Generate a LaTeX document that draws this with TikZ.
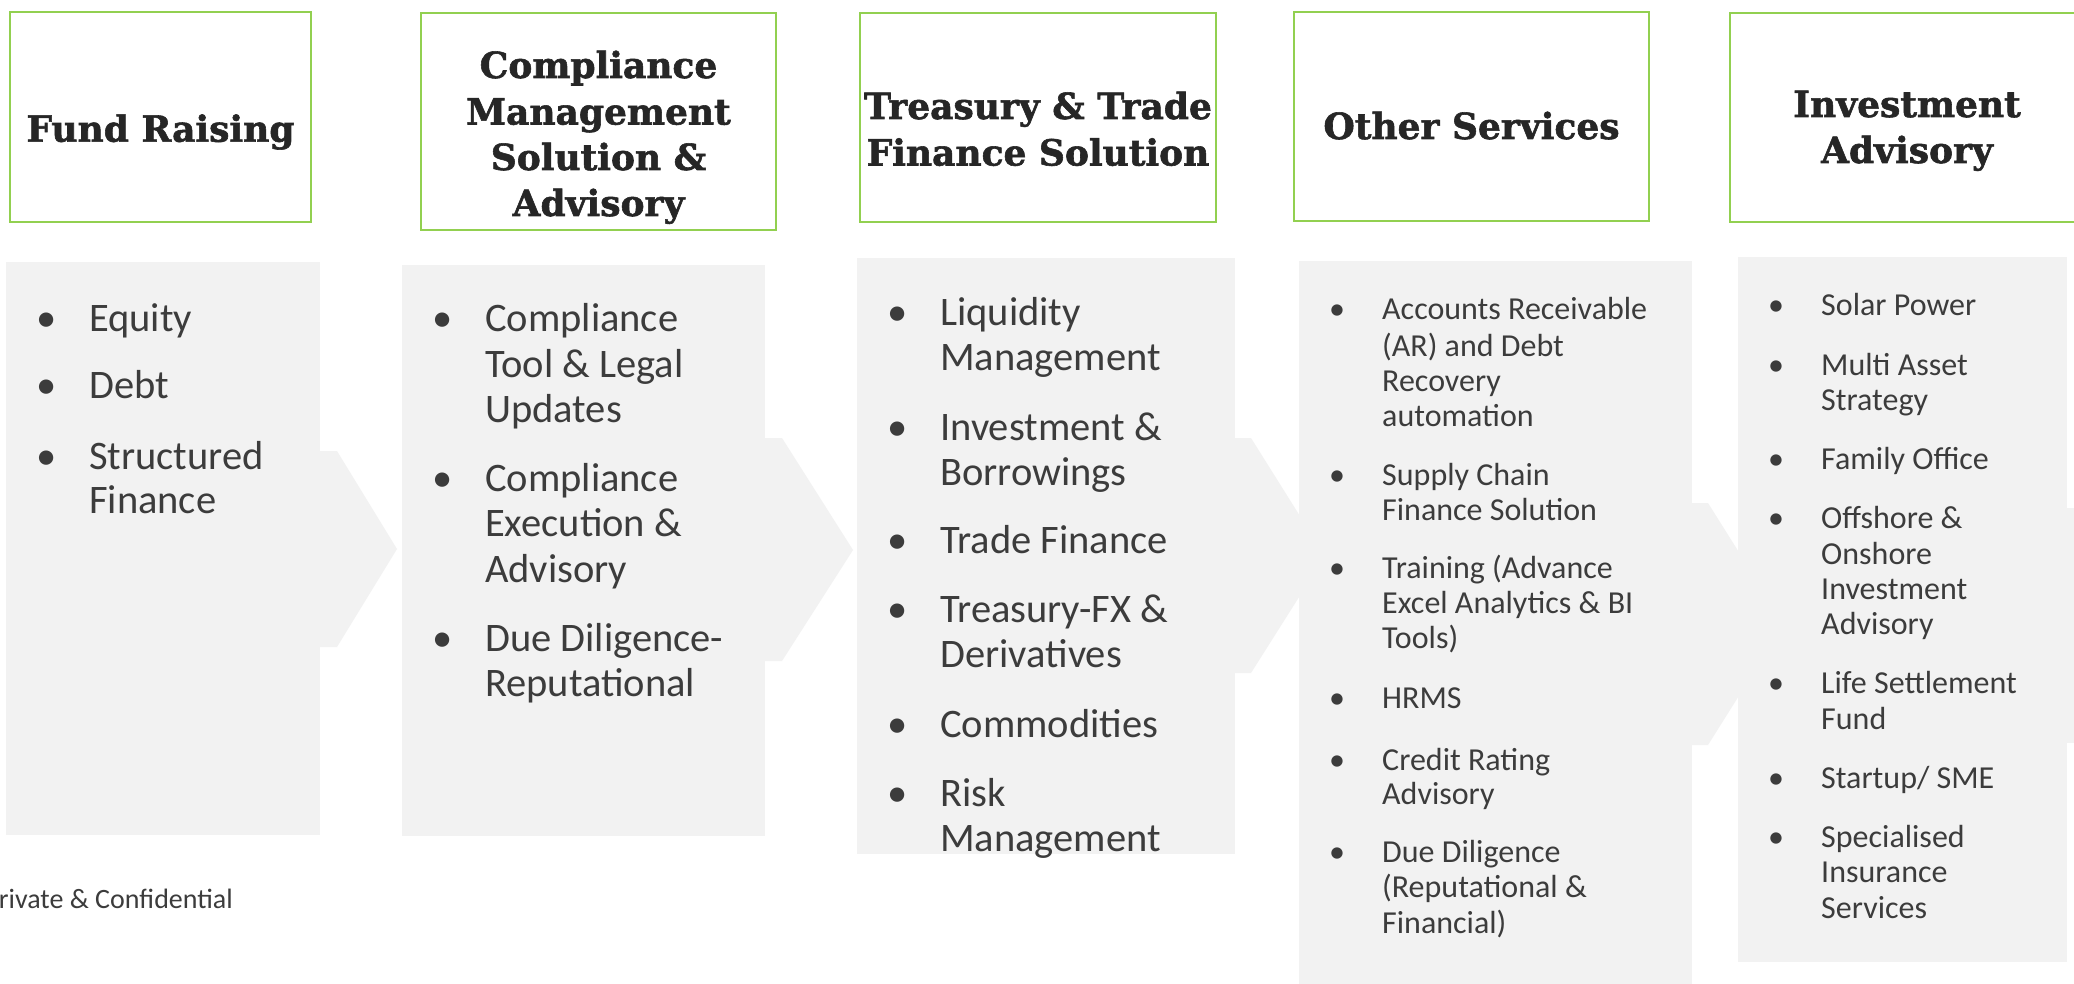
\documentclass[tikz,border=0pt]{standalone}
\usepackage{fontspec}
\setmainfont{Carlito}
\newfontfamily\ttlfont{DejaVu Serif}[BoldFeatures={FakeBold=1.6}]
\definecolor{panelgray}{HTML}{F2F2F2}
\definecolor{boxgreen}{HTML}{92D050}
\definecolor{bodytext}{HTML}{3C3C3C}
\definecolor{titletext}{HTML}{262626}
\newcommand\txtlines[4]{\foreach \yy/\tx [count=\i] in {#4} {\node[#3] (#1\i) at (#2,\yy) {\tx};}}
\newcommand\bulletlist[4]{\foreach \yy [count=\i] in {#4} {\node[#3] (#1\i) at (#2,\yy) {\textbullet};}}
\begin{document}
\begin{tikzpicture}[x=1pt,y=-1pt,
  titlebox/.style={draw=boxgreen, line width=2pt, fill=white},
  pan/.style={fill=panelgray, draw=none},
  ttl/.style={font=\ttlfont\bfseries\fontsize{36}{40}\selectfont, text=titletext, inner sep=0pt, anchor=base},
  bigt/.style={font=\fontsize{40.5}{45}\selectfont, text=bodytext, inner sep=0pt, anchor=base west},
  bigb/.style={font=\fontsize{40.5}{45}\selectfont, text=bodytext, inner sep=0pt, anchor=base},
  smlt/.style={font=\fontsize{32}{36}\selectfont, text=bodytext, inner sep=0pt, anchor=base west},
  smlb/.style={font=\fontsize{32}{36}\selectfont, text=bodytext, inner sep=0pt, anchor=base},
  foot/.style={font=\fontsize{28}{32}\selectfont, text=bodytext, inner sep=0pt, anchor=base east}]
\useasboundingbox (0,0) rectangle (2074,984);
\fill[white] (0,0) rectangle (2074,984);
% title boxes
\draw[titlebox] (10,12) rectangle (311,222);
\draw[titlebox] (421,13) rectangle (776,230);
\draw[titlebox] (860,13) rectangle (1216,222);
\draw[titlebox] (1294,12) rectangle (1649,221);
\draw[titlebox] (1730,13) rectangle (2090,222);
% panels with arrows
\path[pan] (6,262) rectangle (320,835);
\path[pan] (319,451) -- (337,451) -- (397,549) -- (337,647) -- (319,647) -- cycle;
\path[pan] (402,265) rectangle (765,836);
\path[pan] (764,438) -- (782,438) -- (853,550) -- (782,661) -- (764,661) -- cycle;
\path[pan] (857,258) rectangle (1235,854);
\path[pan] (1234,438) -- (1251,438) -- (1325,556) -- (1251,673) -- (1234,673) -- cycle;
\path[pan] (1299,261) rectangle (1692,990);
\path[pan] (1691,503) -- (1708,503) -- (1784,624) -- (1708,745) -- (1691,745) -- cycle;
\path[pan] (1738,257) rectangle (2067,962);
\path[pan] (2066,508) -- (2080,508) -- (2080,743) -- (2066,743) -- cycle;
% titles
\txtlines{ta}{160.5}{ttl}{141.7/{Fund Raising}}
\txtlines{tb}{598.5}{ttl}{78/{Compliance},124.5/{Management},170/{Solution \&},216/{Advisory}}
\txtlines{tc}{1038}{ttl}{119/{Treasury \& Trade},165.5/{Finance Solution}}
\txtlines{td}{1471.5}{ttl}{139/{Other Services}}
\txtlines{te}{1907}{ttl}{117/{Investment},163/{Advisory}}
% panel 1
\bulletlist{ba}{47}{bigb}{331,398,469}
\txtlines{la}{89}{bigt}{331/{Equity},398/{Debt},469/{Structured},513/{Finance}}
% panel 2
\bulletlist{bb}{443}{bigb}{331,491,651}
\txtlines{lb}{485}{bigt}{331/{Compliance},377/{Tool \& Legal},422/{Updates},491/{Compliance},536/{Execution \&},582/{Advisory},651/{Due Diligence-},696/{Reputational}}
% panel 3
\bulletlist{bc}{898}{bigb}{325,440,553,622,737,806}
\txtlines{lc}{940}{bigt}{325/{Liquidity},370/{Management},440/{Investment \&},485/{Borrowings},553/{Trade Finance},622/{Treasury-FX \&},667/{Derivatives},737/{Commodities},806/{Risk},851/{Management}}
% panel 4
\bulletlist{bd}{1337}{smlb}{319,485,578,708,770.5,862}
\txtlines{ld}{1382}{smlt}{319/{Accounts Receivable},356/{(AR) and Debt},391.5/{Recovery},426/{automation},485/{Supply Chain},520/{Finance Solution},578/{Training (Advance},613/{Excel Analytics \& BI},648/{Tools)},708/{HRMS},770.5/{Credit Rating},804/{Advisory},862/{Due Diligence},897/{(Reputational \&},933/{Financial)}}
% panel 5
\bulletlist{be}{1776}{smlb}{316,375,469,528,693,788,847}
\txtlines{le}{1821}{smlt}{316/{Solar Power},375/{Multi Asset},410/{Strategy},469/{Family Office},528/{Offshore \&},564/{Onshore},599/{Investment},634/{Advisory},693/{Life Settlement},729/{Fund},788/{Startup/ SME},847/{Specialised},882/{Insurance},918/{Services}}
% footer
\node[foot] (footer) at (233,908) {Private \& Confidential};
\end{tikzpicture}
\end{document}
